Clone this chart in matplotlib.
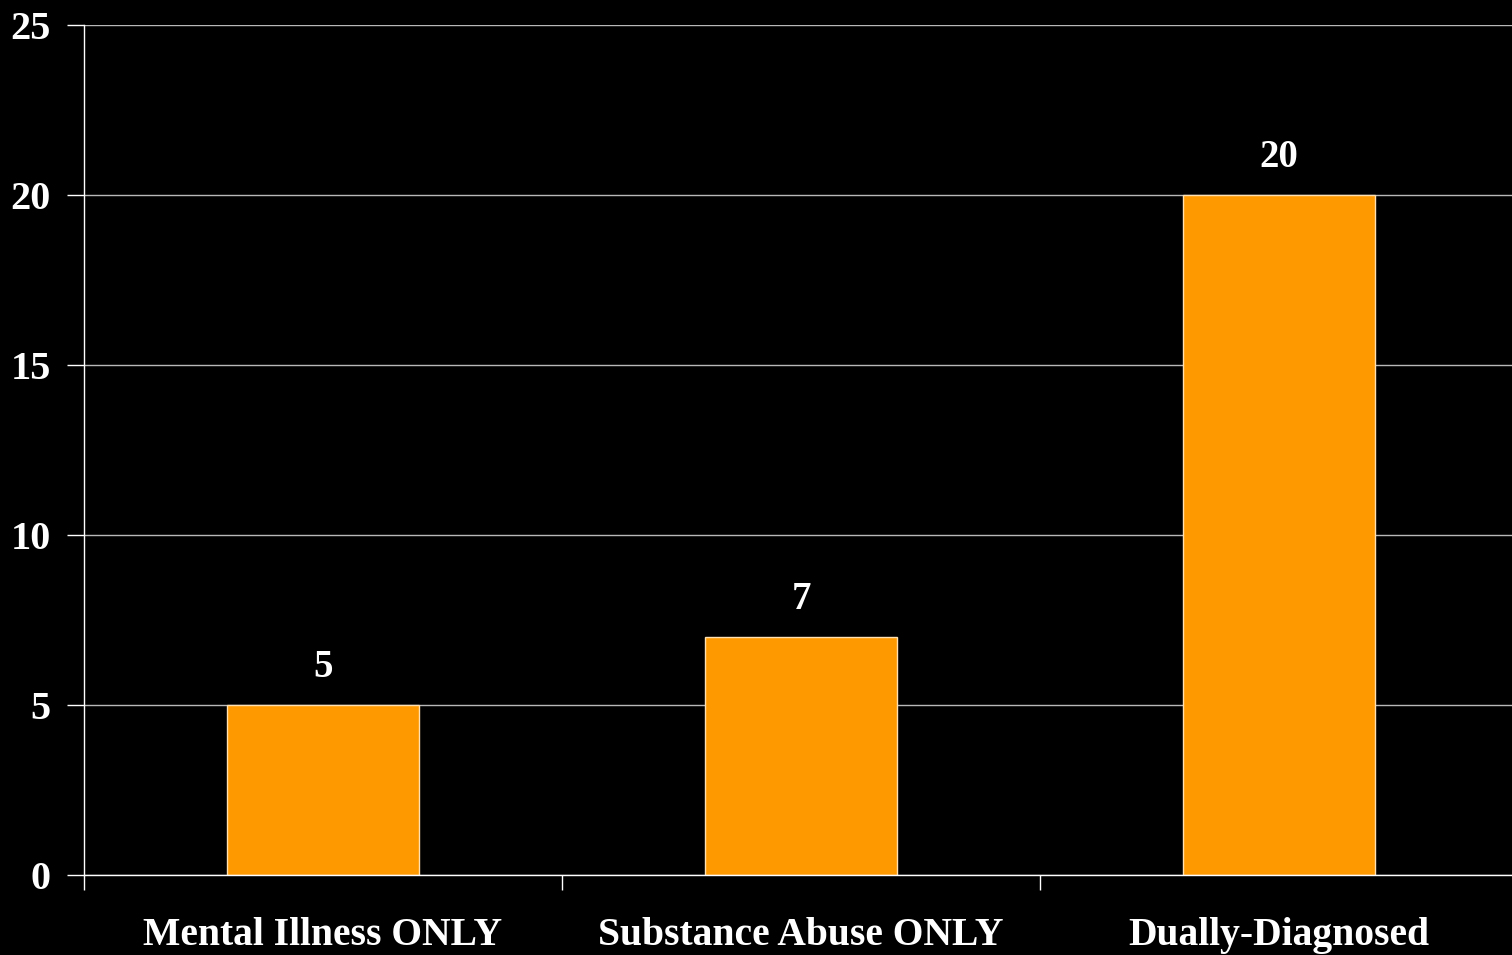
import numpy as np
import matplotlib
matplotlib.use("Agg")
import matplotlib.pyplot as plt

# data
categories = ["Mental Illness ONLY", "Substance Abuse ONLY", "Dually-Diagnosed"]
values = [5, 7, 20]
yticks = [0, 5, 10, 15, 20, 25]

plt.rcParams['font.family'] = ['Liberation Serif', 'DejaVu Serif']
plt.rcParams['font.weight'] = 'bold'

fig = plt.figure(figsize=(15.12, 9.55), dpi=100, facecolor='black')
# plot area runs a little past the right edge, like the original slide
ax = fig.add_axes([84/1512, 1 - 875/955, 1434/1512, 850/955])
ax.set_facecolor('black')

x = np.arange(len(categories))
ax.bar(x, values, width=0.4, color='#FF9900', edgecolor='#FFE0B0', linewidth=1, zorder=3)

for xi, v in zip(x, values):
    ax.text(xi, v + 0.55, str(v), ha='center', va='bottom', color='white',
            fontsize=28, fontweight='bold')

ax.set_xlim(-0.5, len(categories) - 0.5)
ax.set_ylim(0, 25)
ax.set_yticks(yticks)
ax.set_yticklabels([str(t) for t in yticks])
ax.yaxis.grid(True, color='#b8b8b8', linewidth=1, zorder=0)
ax.axhline(25, color='white', linewidth=1.2, zorder=1)

# category ticks sit between the groups
ax.set_xticks(np.arange(len(categories)) - 0.5)
ax.set_xticklabels([])
ax.set_xticks(x, minor=True)
ax.set_xticklabels(categories, minor=True)
ax.tick_params(axis='x', which='minor', length=0, pad=30, labelsize=28.5, colors='white')
ax.tick_params(axis='x', which='major', length=11, color='white', width=1)
ax.tick_params(axis='y', length=12, color='white', width=1, labelsize=29,
               labelcolor='white', pad=12)
for lab in ax.get_xticklabels(minor=True) + ax.get_yticklabels():
    lab.set_fontweight('bold')

for side in ['top', 'right']:
    ax.spines[side].set_visible(False)
for side in ['left', 'bottom']:
    ax.spines[side].set_color('white')
    ax.spines[side].set_linewidth(1)
    ax.spines[side].set_zorder(4)

fig.savefig("out.png", dpi=100, facecolor='black')
